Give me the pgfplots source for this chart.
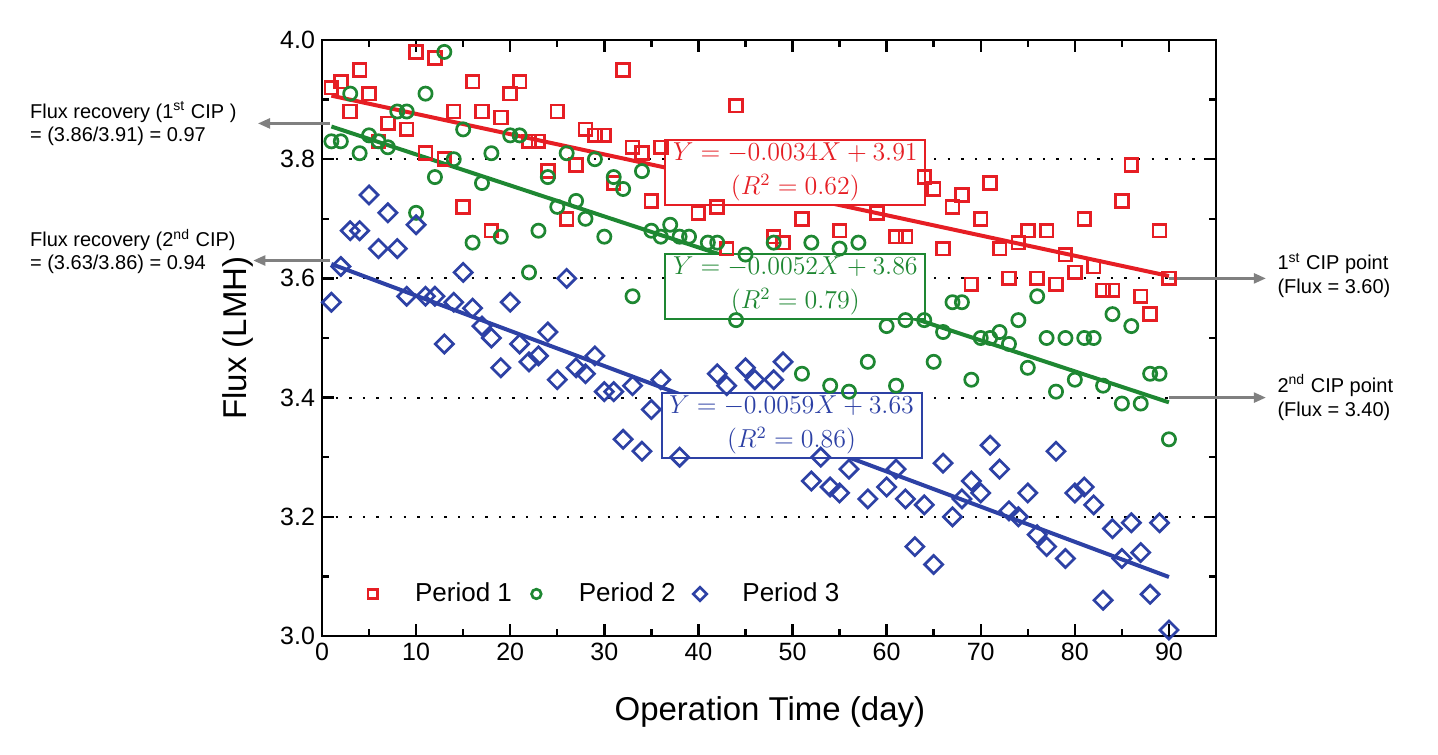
\documentclass[border=0pt]{standalone}
\usepackage{graphicx}
\usepackage{pgfplots}
\pgfplotsset{compat=1.18}
\usepackage{pgfplotstable}
\usepackage{fontspec}
\setmainfont{Liberation Sans}
\usetikzlibrary{arrows.meta}
\definecolor{pred}{RGB}{230,30,36}
\definecolor{pgreen}{RGB}{30,135,50}
\definecolor{pblue}{RGB}{45,65,165}
\definecolor{agray}{RGB}{128,128,128}
\newcommand{\eqs}[1]{\scalebox{1.08}{$#1$}}

\pgfplotstableread{
x y
1 3.92
2 3.93
3 3.88
4 3.95
5 3.91
6 3.83
7 3.86
9 3.85
10 3.98
11 3.81
12 3.97
13 3.80
14 3.88
15 3.72
16 3.93
17 3.88
18 3.68
19 3.87
20 3.91
21 3.93
22 3.83
23 3.83
24 3.78
25 3.88
26 3.70
27 3.79
28 3.85
29 3.84
30 3.84
31 3.76
32 3.95
33 3.82
34 3.81
35 3.73
36 3.82
40 3.71
42 3.72
43 3.65
44 3.89
48 3.67
49 3.66
51 3.70
55 3.68
59 3.71
61 3.67
62 3.67
64 3.77
65 3.75
66 3.65
67 3.72
68 3.74
69 3.59
70 3.70
71 3.76
72 3.65
73 3.60
74 3.66
75 3.68
76 3.60
77 3.68
78 3.59
79 3.64
80 3.61
81 3.70
82 3.62
83 3.58
84 3.58
85 3.73
86 3.79
87 3.57
88 3.54
89 3.68
90 3.60
}\periodone

\pgfplotstableread{
x y
1 3.83
2 3.83
3 3.91
4 3.81
5 3.84
6 3.83
7 3.82
8 3.88
9 3.88
10 3.71
11 3.91
12 3.77
13 3.98
14 3.80
15 3.85
16 3.66
17 3.76
18 3.81
19 3.67
20 3.84
21 3.84
22 3.61
23 3.68
24 3.77
25 3.72
26 3.81
27 3.73
28 3.70
29 3.80
30 3.67
31 3.77
32 3.75
33 3.57
34 3.78
35 3.68
36 3.67
37 3.69
38 3.67
39 3.67
41 3.66
42 3.66
44 3.53
45 3.64
48 3.66
51 3.44
52 3.66
54 3.42
55 3.65
56 3.41
57 3.66
58 3.46
60 3.52
61 3.42
62 3.53
64 3.53
65 3.46
66 3.51
67 3.56
68 3.56
69 3.43
70 3.50
71 3.50
72 3.51
73 3.49
74 3.53
75 3.45
76 3.57
77 3.50
78 3.41
79 3.50
80 3.43
81 3.50
82 3.50
83 3.42
84 3.54
85 3.39
86 3.52
87 3.39
88 3.44
89 3.44
90 3.33
}\periodtwo

\pgfplotstableread{
x y
1 3.56
2 3.62
3 3.68
4 3.68
5 3.74
6 3.65
7 3.71
8 3.65
9 3.57
10 3.69
11 3.57
12 3.57
13 3.49
14 3.56
15 3.61
16 3.55
17 3.52
18 3.50
19 3.45
20 3.56
21 3.49
22 3.46
23 3.47
24 3.51
25 3.43
26 3.60
27 3.45
28 3.44
29 3.47
30 3.41
31 3.41
32 3.33
33 3.42
34 3.31
35 3.38
36 3.43
38 3.30
42 3.44
43 3.42
45 3.45
46 3.43
48 3.43
49 3.46
52 3.26
53 3.30
54 3.25
55 3.24
56 3.28
58 3.23
60 3.25
61 3.28
62 3.23
63 3.15
64 3.22
65 3.12
66 3.29
67 3.20
68 3.23
69 3.26
70 3.24
71 3.32
72 3.28
73 3.21
74 3.20
75 3.24
76 3.17
77 3.15
78 3.31
79 3.13
80 3.24
81 3.25
82 3.22
83 3.06
84 3.18
85 3.13
86 3.19
87 3.14
88 3.07
89 3.19
90 3.01
}\periodthree

\begin{document}
\begin{tikzpicture}
\begin{axis}[
  scale only axis, width=447pt, height=298pt,
  xmin=0, xmax=95, ymin=3, ymax=4,
  xtick={0,10,20,30,40,50,60,70,80,90},
  minor xtick={5,15,25,35,45,55,65,75,85,95},
  ytick={3,3.2,3.4,3.6,3.8,4},
  minor ytick={3.1,3.3,3.5,3.7,3.9},
  tick align=inside,
  major tick length=6pt, minor tick length=3.5pt,
  every tick/.style={black, line width=1.2pt},
  axis line style={line width=1.4pt},
  ymajorgrids,
  grid style={black, line width=1pt, dash pattern=on 1.2pt off 5.6pt},
  yticklabel style={/pgf/number format/.cd, fixed, fixed zerofill, precision=1},
  /pgf/number format/assume math mode=true,
  ticklabel style={font=\fontsize{12.5}{14}\selectfont},
  xlabel={Operation Time (day)}, ylabel={Flux (LMH)},
  label style={font=\fontsize{16.5}{19}\selectfont},
  xlabel style={at={(axis description cs:0.501,-0.1275)}, anchor=center},
  ylabel style={at={(axis description cs:-0.094,0.5)}, anchor=center},
  clip=false,
  legend columns=3,
  legend style={at={(axis description cs:0.0447,0.0705)}, anchor=west,
    draw=none, fill=none, inner sep=0pt,
    font=\fontsize{13}{15}\selectfont,
    /tikz/every even column/.append style={column sep=5pt}},
  legend image code/.code={\path (0pt,0pt) (24pt,0pt); \draw[#1, mark size=2.4pt] plot coordinates {(5pt,0pt)};},
]
\addplot[only marks, color=pred, mark=square, mark size=3.2pt, mark options={line width=1.35pt}] table {\periodone};
\addlegendentry{Period 1}
\addplot[only marks, color=pgreen, mark=o, mark size=3.3pt, mark options={line width=1.35pt}] table {\periodtwo};
\addlegendentry{Period 2}
\addplot[only marks, color=pblue, mark=square, mark size=3.2pt, mark options={line width=1.35pt, rotate=45}] table {\periodthree};
\addlegendentry{Period 3}

\addplot[forget plot, color=pred, line width=2pt] coordinates {(1,3.9066) (90,3.604)};
\addplot[forget plot, color=pgreen, line width=2pt] coordinates {(1,3.8548) (90,3.392)};
\addplot[forget plot, color=pblue, line width=2pt] coordinates {(1,3.6241) (90,3.099)};

\node[draw=pred, text=pred, fill=white, line width=1pt, minimum width=130pt, minimum height=32.5pt, inner sep=0pt, align=center, font=\fontsize{12}{17}\selectfont] at (axis cs:50.3,3.778) {\eqs{Y = -0.0034X + 3.91}\\\eqs{(R^2 = 0.62)}};
\node[draw=pgreen, text=pgreen, fill=white, line width=1pt, minimum width=130pt, minimum height=32.5pt, inner sep=0pt, align=center, font=\fontsize{12}{17}\selectfont] at (axis cs:50.3,3.587) {\eqs{Y = -0.0052X + 3.86}\\\eqs{(R^2 = 0.79)}};
\node[draw=pblue, text=pblue, fill=white, line width=1pt, minimum width=130pt, minimum height=32.5pt, inner sep=0pt, align=center, font=\fontsize{12}{17}\selectfont] at (axis cs:49.9,3.354) {\eqs{Y = -0.0059X + 3.63}\\\eqs{(R^2 = 0.86)}};

\draw[agray, line width=1.2pt, -{Triangle[length=6pt,width=5pt]}] (axis cs:0.9,3.86) -- (axis cs:-6.8,3.86);
\draw[agray, line width=1.2pt, -{Triangle[length=6pt,width=5pt]}] (axis cs:0.9,3.63) -- (axis cs:-7.3,3.63);
\draw[agray, line width=1.2pt, -{Triangle[length=6pt,width=5pt]}] (axis cs:90,3.60) -- (axis cs:100.3,3.60);
\draw[agray, line width=1.2pt, -{Triangle[length=6pt,width=5pt]}] (axis cs:90,3.40) -- (axis cs:100.3,3.40);

\node[anchor=west, align=left, inner sep=0pt, font=\fontsize{10}{11.5}\selectfont] at (axis cs:-31.06,3.86) {Flux recovery (1\textsuperscript{st} CIP )\\= (3.86/3.91) = 0.97};
\node[anchor=west, align=left, inner sep=0pt, font=\fontsize{10}{11.5}\selectfont] at (axis cs:-31.06,3.645) {Flux recovery (2\textsuperscript{nd} CIP)\\= (3.63/3.86) = 0.94};
\node[anchor=west, align=left, inner sep=0pt, font=\fontsize{10}{12}\selectfont] at (axis cs:101.5,3.605) {1\textsuperscript{st} CIP point\\(Flux = 3.60)};
\node[anchor=west, align=left, inner sep=0pt, font=\fontsize{10}{12}\selectfont] at (axis cs:101.5,3.40) {2\textsuperscript{nd} CIP point\\(Flux = 3.40)};
\end{axis}
\pgfresetboundingbox
\path[use as bounding box] (-161pt,-59pt) rectangle (558pt,318pt);
\end{tikzpicture}
\end{document}
